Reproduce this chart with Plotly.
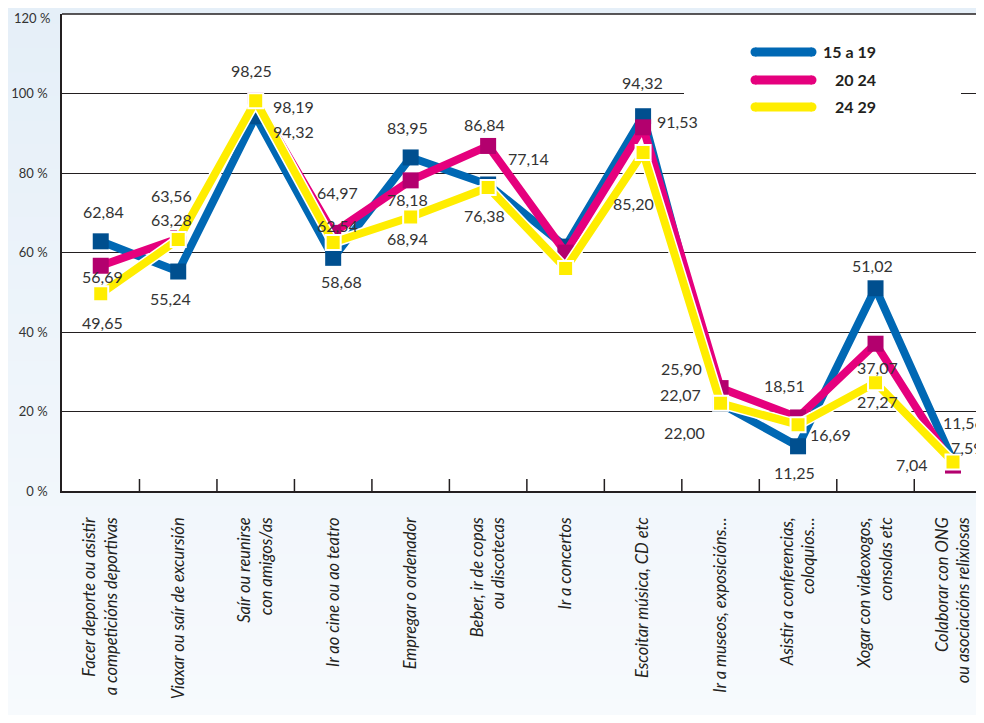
import plotly.graph_objects as go

# ---------------- data ----------------
categories = [
    "Facer deporte ou asistir<br>a competicións deportivas",
    "Viaxar ou saír de excursión",
    "Saír ou reunirse<br>con amigos/as",
    "Ir ao cine ou ao teatro",
    "Empregar o ordenador",
    "Beber, ir de copas<br>ou discotecas",
    "Ir a concertos",
    "Escoitar música, CD etc",
    "Ir a museos, exposicións…",
    "Asistir a conferencias,<br>coloquios…",
    "Xogar con videoxogos,<br>consolas etc",
    "Colaborar con ONG<br>ou asociacións relixiosas",
]
series_names = ["15 a 19", "20 24", "24 29"]

values_15_19 = [62.84, 55.24, 94.32, 58.68, 83.95, 77.14, 61.5, 94.32, 22.00, 11.25, 51.02, 7.6]
values_20_24 = [56.69, 63.56, 98.25, 64.97, 78.18, 86.84, 60.0, 91.53, 25.90, 18.51, 37.07, 6.4]
values_24_29 = [49.65, 63.28, 98.19, 62.54, 68.94, 76.38, 56.0, 85.20, 22.07, 16.69, 27.27, 7.3]

labels_15_19 = ["62,84", "55,24", "94,32", "58,68", "83,95", "77,14", "", "94,32", "22,00", "11,25", "51,02", "11,56"]
labels_20_24 = ["56,69", "63,56", "98,25", "64,97", "78,18", "86,84", "", "91,53", "25,90", "18,51", "37,07", "7,59"]
labels_24_29 = ["49,65", "63,28", "98,19", "62,54", "68,94", "76,38", "", "85,20", "22,07", "16,69", "27,27", "7,04"]

y_ticks = [0, 20, 40, 60, 80, 100, 120]
y_tick_text = ["0 %", "20 %", "40 %", "60 %", "80 %", "100 %", "120 %"]

# ---------------- style ----------------
# the page body has an 8px margin; the figure is sized so the plot area
# lands at page pixels x 62..984, y 14..491
BODY = 8
W, H = 976, 707
PL, PT, PB, PR = 62, 14, 491, 984          # plot area in page pixels
PW, PH = PR - PL, PB - PT
ML, MT = PL - BODY, PT - BODY
MR = BODY + W - PR
MB = H - MT - PH

line_cols = ["#0068b4", "#e5007d", "#ffed00"]
marker_cols = ["#004f8f", "#b3006e", "#ffed00"]
ink = "#231f20"
txt = "#333333"

# label offsets (px) relative to each point: (dx, dy up)
off_15_19 = [(2.5, 30), (-8, -27), (37.5, -15), (8, -24), (-3, 30), (40, 26), None,
             (-1, 34), (-36.5, -28.5), (-4, -26), (-3.5, 23), (10, 38)]
off_20_24 = [(1.5, -11), (-7, 43), (-4, 30.5), (4, 40), (-3.5, -19), (-3.5, 21), None,
             (34, 6), (-39.5, 20), (-14, 32), (1.5, -24), (13, 18.5)]
off_24_29 = [(1.5, -29), (-7, 20.5), (37.5, -6), (4, 17), (-3, -21), (-3.5, -27.5), None,
             (-10, -51), (-40.5, 9), (32, -10), (1.5, -19), (-42, -3)]

x = list(range(len(categories)))

fig = go.Figure()

all_vals = [values_15_19, values_20_24, values_24_29]
all_labels = [labels_15_19, labels_20_24, labels_24_29]
all_offs = [off_15_19, off_20_24, off_24_29]

for k, (name, vals) in enumerate(zip(series_names, all_vals)):
    if k == 2:
        # white casing under the yellow line
        fig.add_trace(go.Scatter(x=x, y=vals, mode="lines",
                                 line=dict(color="white", width=11),
                                 hoverinfo="skip", showlegend=False))
    fig.add_trace(go.Scatter(
        x=x, y=vals, mode="lines+markers", name=name,
        line=dict(color=line_cols[k], width=8),
        marker=dict(symbol="square", size=16 if k < 2 else 15, color=marker_cols[k],
                    line=dict(color="white", width=2 if k == 2 else 0)),
        showlegend=False,
    ))

annotations = []
for vals, labs, offs in zip(all_vals, all_labels, all_offs):
    for i, (v, lab, off) in enumerate(zip(vals, labs, offs)):
        if not lab or off is None:
            continue
        annotations.append(dict(
            x=i, y=v, xref="x", yref="y", text=lab, showarrow=False,
            xanchor="center", yanchor="middle", xshift=off[0], yshift=off[1],
            font=dict(family="Lato, sans-serif", size=16, color=txt),
        ))


def px_x(p):
    return (p - PL) / PW


def px_y(p):
    return (PB - p) / PH


# the top tick label (120 %) is drawn as an annotation so it stays inside the figure
axis_tick_text = y_tick_text[:-1] + [""]
annotations.append(dict(x=px_x(PL - 10), y=px_y(BODY), xref="paper", yref="paper",
                        text=y_tick_text[-1], showarrow=False,
                        xanchor="right", yanchor="top",
                        font=dict(family="Lato, sans-serif", size=13, color=txt)))

shapes = []
# vertical gradient bands for the page background
top_c = (0xe5, 0xef, 0xf8)
bot_c = (0xf7, 0xfa, 0xfd)
nb = 30
for b in range(nb):
    t = b / (nb - 1)
    c = tuple(int(round(top_c[j] + (bot_c[j] - top_c[j]) * t)) for j in range(3))
    y0p = b * 723 / nb
    y1p = (b + 1) * 723 / nb + 1
    shapes.append(dict(type="rect", xref="paper", yref="paper", layer="below",
                       x0=px_x(0), x1=px_x(990), y0=px_y(y1p), y1=px_y(y0p),
                       fillcolor="rgb(%d,%d,%d)" % c, line=dict(width=0)))
# white plot area
shapes.append(dict(type="rect", xref="paper", yref="paper", layer="below",
                   x0=0, x1=1, y0=0, y1=1, fillcolor="white", line=dict(width=0)))
# legend box (breaks the 100 % gridline)
shapes.append(dict(type="rect", xref="paper", yref="paper", layer="above",
                   x0=px_x(684), x1=px_x(961), y0=px_y(118), y1=px_y(30),
                   fillcolor="white", line=dict(width=0)))
leg_y = [52, 80, 107]
for k in range(3):
    yy = leg_y[k]
    shapes.append(dict(type="line", xref="paper", yref="paper", layer="above",
                       x0=px_x(755), x1=px_x(812), y0=px_y(yy), y1=px_y(yy),
                       line=dict(color=line_cols[k], width=9)))
    for cx in (755, 812):
        shapes.append(dict(type="circle", xref="paper", yref="paper", layer="above",
                           x0=px_x(cx - 4.5), x1=px_x(cx + 4.5),
                           y0=px_y(yy + 4.5), y1=px_y(yy - 4.5),
                           fillcolor=line_cols[k], line=dict(width=0)))
    annotations.append(dict(x=px_x(878), y=px_y(yy), xref="paper", yref="paper",
                            text=series_names[k], showarrow=False,
                            xanchor="right", yanchor="middle",
                            font=dict(family="Lato, sans-serif", size=16, color=ink,
                                      weight="bold")))

fig.update_layout(
    width=W, height=H,
    margin=dict(l=ML, r=MR, t=MT, b=MB, pad=0, autoexpand=False),
    paper_bgcolor="#eef4fa",
    plot_bgcolor="white",
    shapes=shapes,
    annotations=annotations,
    showlegend=False,
    xaxis=dict(
        type="linear", range=[-0.5, 11.4], automargin=False,
        tickmode="array", tickvals=x, ticktext=categories,
        tickangle=-90, ticks="", showgrid=False, zeroline=False,
        showline=True, linecolor=ink, linewidth=1.5,
        tickfont=dict(family="Lato, sans-serif", size=16.5, color=ink, style="italic"),
        ticklabelstandoff=18, ticklabeloverflow="allow",
    ),
    yaxis=dict(
        range=[0, 120.05], automargin=False,
        tickmode="array", tickvals=y_ticks, ticktext=axis_tick_text,
        showgrid=True, gridcolor=ink, gridwidth=1.3, zeroline=False,
        showline=True, linecolor=ink, linewidth=1.5, ticks="",
        tickfont=dict(family="Lato, sans-serif", size=13, color=txt),
        ticklabelstandoff=10, ticklabeloverflow="allow",
    ),
)

# top border of the plot area (120 %)
fig.add_shape(type="line", xref="paper", yref="paper", x0=0, x1=1, y0=1, y1=1,
              line=dict(color=ink, width=1.5), layer="above")

# category boundary ticks (inside, pointing up from the x axis)
for b in range(1, len(categories)):
    fig.add_shape(type="line", xref="x", yref="paper", x0=b - 0.5, x1=b - 0.5,
                  y0=0, y1=12 / PH, line=dict(color=ink, width=1.5), layer="above")

fig.write_html("out.html")
